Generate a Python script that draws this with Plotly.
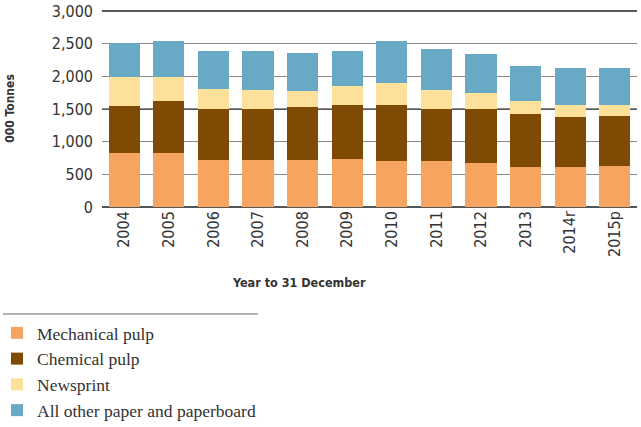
import plotly.graph_objects as go

years = ["2004", "2005", "2006", "2007", "2008", "2009", "2010", "2011", "2012", "2013", "2014r", "2015p"]
mechanical = [826, 826, 723, 723, 713, 738, 708, 697, 677, 611, 616, 631]
chemical = [723, 804, 780, 780, 810, 826, 846, 806, 826, 805, 765, 765]
newsprint = [439, 358, 306, 295, 255, 291, 351, 295, 245, 214, 183, 158]
other = [524, 555, 581, 592, 581, 535, 638, 623, 596, 530, 571, 581]
y_ticks = [0, 500, 1000, 1500, 2000, 2500, 3000]
dark_grid = [1500, 3000]

series = [
    ("Mechanical pulp", mechanical, "#F6A561"),
    ("Chemical pulp", chemical, "#7E4A04"),
    ("Newsprint", newsprint, "#FDE19A"),
    ("All other paper and paperboard", other, "#68A9C6"),
]

narrow = "DejaVu Sans Condensed, Liberation Sans Narrow, Arial Narrow, Liberation Sans, sans-serif"

fig = go.Figure()
for name, vals, col in series:
    fig.add_trace(go.Bar(x=years, y=vals, name=name, marker=dict(color=col, line=dict(width=0))))

W, H = 641, 427
plot_l, plot_r, plot_t, plot_b = 102, 637, 10, 207  # pixels
ml, mr, mt, mb = plot_l, W - plot_r, plot_t, H - plot_b
pw, ph = W - ml - mr, H - mt - mb

def px_x(x):
    return (x - plot_l) / pw

def px_y(y):
    return (plot_b - y) / ph

shapes = [
    dict(type="line", xref="paper", yref="paper", x0=px_x(3), x1=px_x(258),
         y0=px_y(314), y1=px_y(314), line=dict(color="#666666", width=1)),
]
for g in dark_grid:
    shapes.append(dict(type="line", xref="paper", yref="y", x0=0, x1=1, y0=g, y1=g,
                       layer="below", line=dict(color="#222222", width=1.3)))

fig.update_layout(
    width=W, height=H,
    margin=dict(l=ml, r=mr, t=mt, b=mb, pad=0, autoexpand=False),
    barmode="stack", bargap=0.3,
    plot_bgcolor="white", paper_bgcolor="white",
    showlegend=True,
    legend=dict(
        x=px_x(-3), y=px_y(315), xanchor="left", yanchor="top",
        traceorder="normal", orientation="v",
        font=dict(family="Liberation Serif, DejaVu Serif, serif", size=17.5, color="#333333"),
        bgcolor="rgba(0,0,0,0)", itemwidth=30,
    ),
    xaxis=dict(
        tickangle=-90, tickfont=dict(family=narrow, size=16, color="#333333"),
        showgrid=False, showline=False, ticks="", automargin=False,
    ),
    yaxis=dict(
        range=[0, 3015], tickvals=y_ticks,
        tickformat=",", tickfont=dict(family=narrow, size=16, color="#333333"),
        showgrid=True, gridcolor="#8a8a8a", gridwidth=1.3,
        zeroline=True, zerolinecolor="#555555", zerolinewidth=2,
        showline=False, ticks="", ticklabelstandoff=8, automargin=False,
        ticklabeloverflow="allow",
        title=dict(text="<b>000 Tonnes</b>", font=dict(family=narrow, size=12, color="#333333"), standoff=34),
    ),
    annotations=[
        dict(text="<b>Year to 31 December</b>", xref="paper", yref="paper",
             x=px_x(299), y=px_y(282), xanchor="center", yanchor="middle", showarrow=False,
             font=dict(family=narrow, size=12.5, color="#333333")),
    ],
    shapes=shapes,
)

fig.write_html("out.html", config={"displayModeBar": False},
               post_script="document.body.style.margin='0';")
